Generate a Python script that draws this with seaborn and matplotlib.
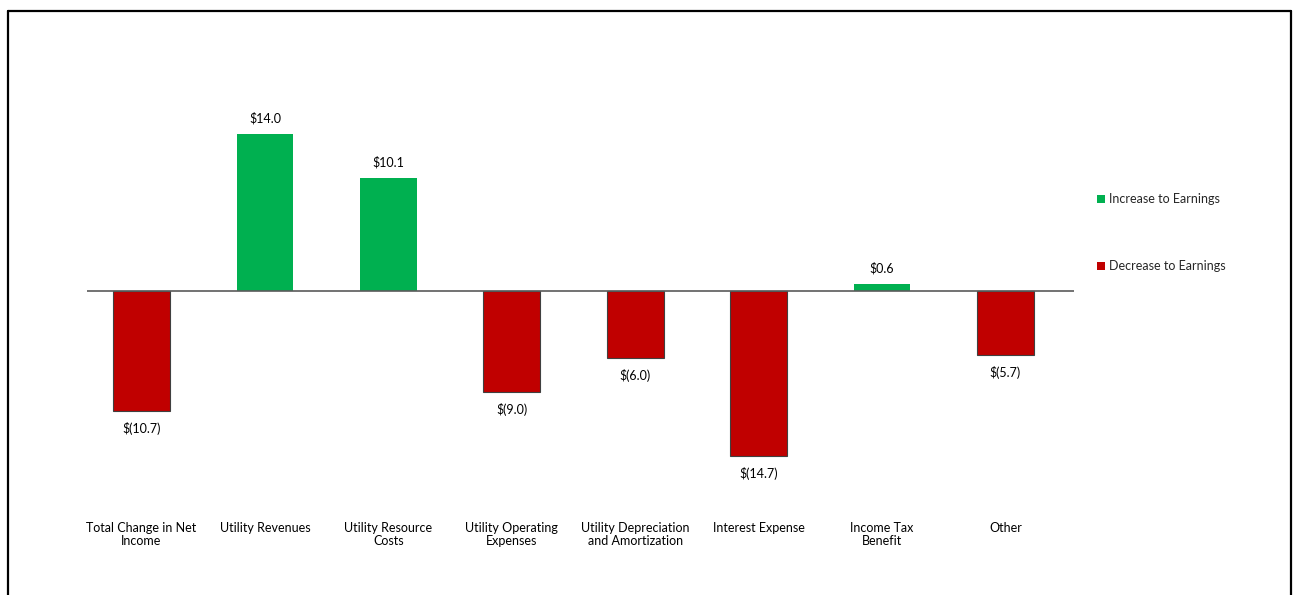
import matplotlib
matplotlib.use("Agg")
import matplotlib.pyplot as plt
import seaborn as sns
import pandas as pd
from matplotlib.patches import Patch
from matplotlib.lines import Line2D

categories = ["Total Change in Net\nIncome", "Utility Revenues", "Utility Resource\nCosts",
              "Utility Operating\nExpenses", "Utility Depreciation\nand Amortization",
              "Interest Expense", "Income Tax\nBenefit", "Other"]
values = [-10.7, 14.0, 10.1, -9.0, -6.0, -14.7, 0.6, -5.7]
value_labels = ["$(10.7)", "$14.0", "$10.1", "$(9.0)", "$(6.0)", "$(14.7)", "$0.6", "$(5.7)"]
legend_labels = ["Increase to Earnings", "Decrease to Earnings"]

GREEN = "#00B050"
RED = "#C00000"

sns.set_theme(style="white")
plt.rcParams['font.family'] = ['Lato', 'DejaVu Sans']

df = pd.DataFrame({
    "category": categories,
    "value": values,
    "kind": [legend_labels[0] if v >= 0 else legend_labels[1] for v in values],
})

W, H = 1293, 595
fig = plt.figure(figsize=(W / 100, H / 100), dpi=100)
# axes: x from 87 to 1074 px, y from 60 to 500 px
ax = fig.add_axes([87 / W, 1 - 500 / H, (1074 - 87) / W, (500 - 60) / H])

sns.barplot(data=df, x="category", y="value", hue="kind", order=categories,
            hue_order=legend_labels, palette={legend_labels[0]: GREEN, legend_labels[1]: RED},
            dodge=False, width=0.46, ax=ax, legend=False, saturation=1)

for bar in ax.patches:
    h = bar.get_height()
    if h < 0:
        bar.set_edgecolor("#404040")
        bar.set_linewidth(0.8)
    else:
        bar.set_edgecolor("none")

ax.set_xlim(-0.442, 7.556)
# zero at 291 px, 11.2 px/unit
top = (291 - 60) / 11.2
bot = -(500 - 291) / 11.2
ax.set_ylim(bot, top)
ax.axhline(0, color="#5a5a5a", lw=1.2, zorder=3)

FS = 9
for i, (v, lab) in enumerate(zip(values, value_labels)):
    if v >= 0:
        ax.annotate(lab, (i, v), xytext=(0, 7), textcoords="offset points",
                    ha="center", va="bottom", fontsize=FS, color="#000000")
    else:
        ax.annotate(lab, (i, v), xytext=(0, -8), textcoords="offset points",
                    ha="center", va="top", fontsize=FS, color="#000000")

ax.set_xticks(range(len(categories)))
ax.set_xticklabels(categories, fontsize=FS, color="#000000", linespacing=1.1)
ax.tick_params(axis="x", length=0, pad=16)
ax.set_yticks([])
ax.set_xlabel("")
ax.set_ylabel("")
for s in ax.spines.values():
    s.set_visible(False)

handles = [Patch(facecolor=GREEN, edgecolor="none"), Patch(facecolor=RED, edgecolor="none")]
fig.legend(handles, legend_labels, loc="upper left", bbox_to_anchor=(1091 / W, 1 - 187 / H),
           frameon=False, fontsize=FS, handlelength=0.6, handleheight=0.6,
           handletextpad=0.35, labelspacing=4.4, borderpad=0)

# figure border (left, top, right)
lc = "#000000"
fig.add_artist(Line2D([8 / W, 8 / W], [0, 1 - 11 / H], color=lc, lw=1.6, transform=fig.transFigure))
fig.add_artist(Line2D([8 / W, 1291 / W], [1 - 11 / H, 1 - 11 / H], color=lc, lw=1.6, transform=fig.transFigure))
fig.add_artist(Line2D([1291 / W, 1291 / W], [0, 1 - 11 / H], color=lc, lw=1.6, transform=fig.transFigure))

fig.savefig("out.png", dpi=100, facecolor="white")
